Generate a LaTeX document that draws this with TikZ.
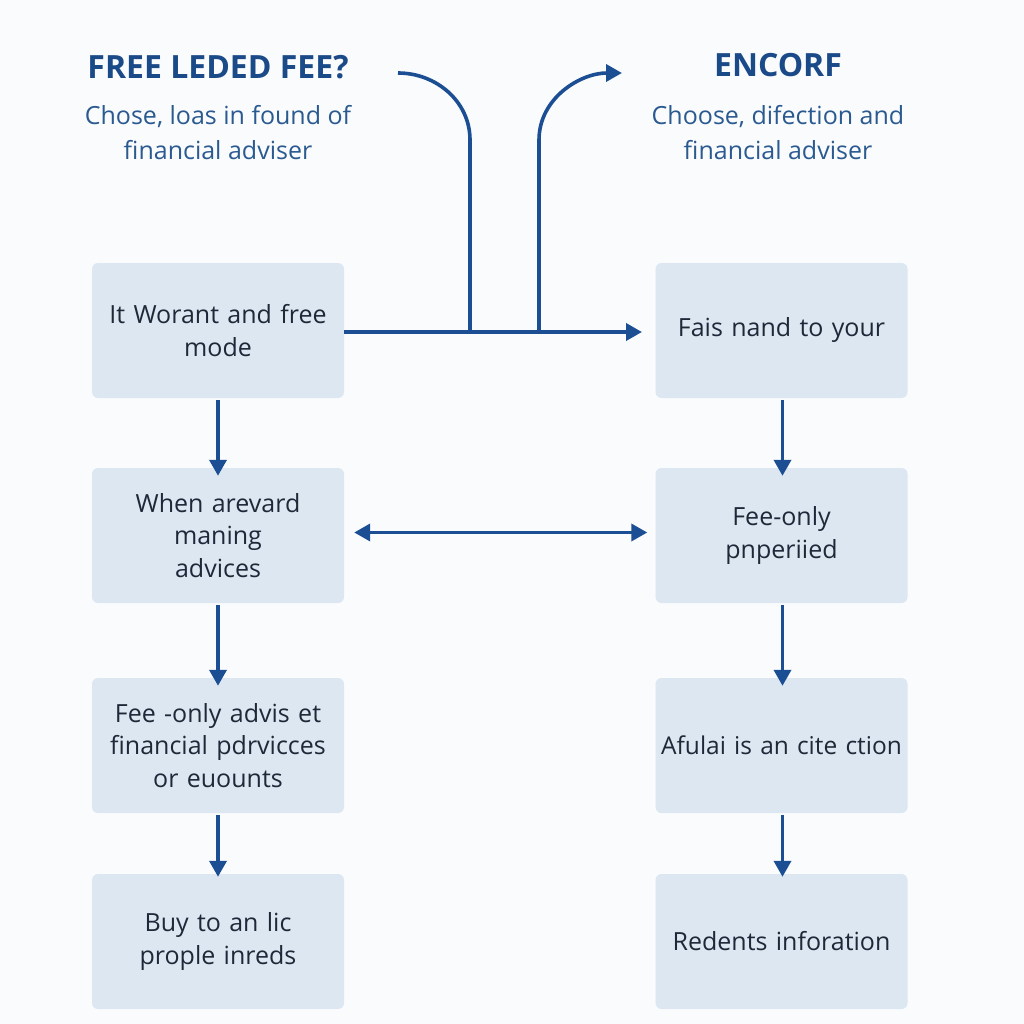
\documentclass[tikz,border=0pt]{standalone}
\usepackage{fontspec}
\setmainfont{Open Sans}
\usetikzlibrary{arrows.meta}
\definecolor{linecol}{HTML}{1C4E94}
\definecolor{boxfill}{HTML}{DDE7F2}
\definecolor{titlecol}{HTML}{1B4A88}
\definecolor{subcol}{HTML}{2A5A90}
\definecolor{textcol}{HTML}{1E2838}
\definecolor{bgcol}{HTML}{FAFBFD}
\begin{document}
\begin{tikzpicture}[x=1pt,y=-1pt,
  stepbox/.style={draw=none,fill=boxfill,rounded corners=6pt,minimum width=252pt,minimum height=135pt,text width=250pt,align=center,text=textcol,font=\fontsize{25}{32.5}\selectfont,inner sep=0pt},
  conn/.style={draw=linecol,line width=3.6pt},
  tip/.style={-{Triangle[length=16pt,width=17pt]}},
  dtip/.style={{Triangle[length=16pt,width=17pt]}-{Triangle[length=16pt,width=17pt]}},
  title/.style={text=titlecol,font=\fontsize{32}{36}\selectfont\bfseries,align=center},
  sub/.style={text=subcol,font=\fontsize{25}{35}\selectfont,align=center}]
\fill[bgcol] (0,0) rectangle (1024,1024);
\useasboundingbox (0,0) rectangle (1024,1024);

\node[title] (t1) at (218,67) {FREE LEDED FEE?};
\node[sub] (s1) at (218,133) {Chose, loas in found of\\financial adviser};
\node[title] (t2) at (778,65) {ENCORF};
\node[sub] (s2) at (778,133) {Choose, difection and\\financial adviser};

\node[stepbox] (l1) at (218,330.5) {It Worant and free\\mode};
\node[stepbox] (l2) at (218,535.5) {When arevard\\maning\\advices};
\node[stepbox] (l3) at (218,745.5) {Fee -only advis et\\financial pdrvicces\\or euounts};
\node[stepbox] (l4) at (218,941.5) {Buy to an lic\\prople inreds};

\node[stepbox] (r1) at (781.5,330.5) {Fais nand to your};
\node[stepbox] (r2) at (781.5,535.5) {Fee-only\\pnperiied};
\node[stepbox,font=\fontsize{24.5}{32.5}\selectfont] (r3) at (781.5,745.5) {\mbox{Afulai is an cite ction}};
\node[stepbox] (r4) at (781.5,941.5) {Redents inforation};

\coordinate (cs) at (398,73);
\coordinate (ce) at (622,73);
\coordinate (jl) at (470,332);
\coordinate (jr) at (539,332);

\draw[conn] (cs) to[out=0,in=90] (470,140) -- (jl);
\draw[conn,tip] (jr) -- (539,140) to[out=90,in=180] (ce);
\draw[conn,tip] (l1.east |- jl) -- (642,332);

\draw[conn,tip] (l1.south) ++(0,2) -- ([yshift=-8pt]l2.north);
\draw[conn,tip] (l2.south) ++(0,2) -- ([yshift=-8pt]l3.north);
\draw[conn,tip] (l3.south) ++(0,2) -- ([yshift=-3pt]l4.north);
\draw[conn,tip] ([xshift=1pt]r1.south) ++(0,2) -- ([xshift=1pt,yshift=-8pt]r2.north);
\draw[conn,tip] ([xshift=1pt]r2.south) ++(0,2) -- ([xshift=1pt,yshift=-8pt]r3.north);
\draw[conn,tip] ([xshift=1pt]r3.south) ++(0,2) -- ([xshift=1pt,yshift=-3pt]r4.north);

\draw[conn,dtip] ([xshift=10pt,yshift=3pt]l2.east) -- ([xshift=-8pt,yshift=3pt]r2.west);
\end{tikzpicture}
\end{document}
